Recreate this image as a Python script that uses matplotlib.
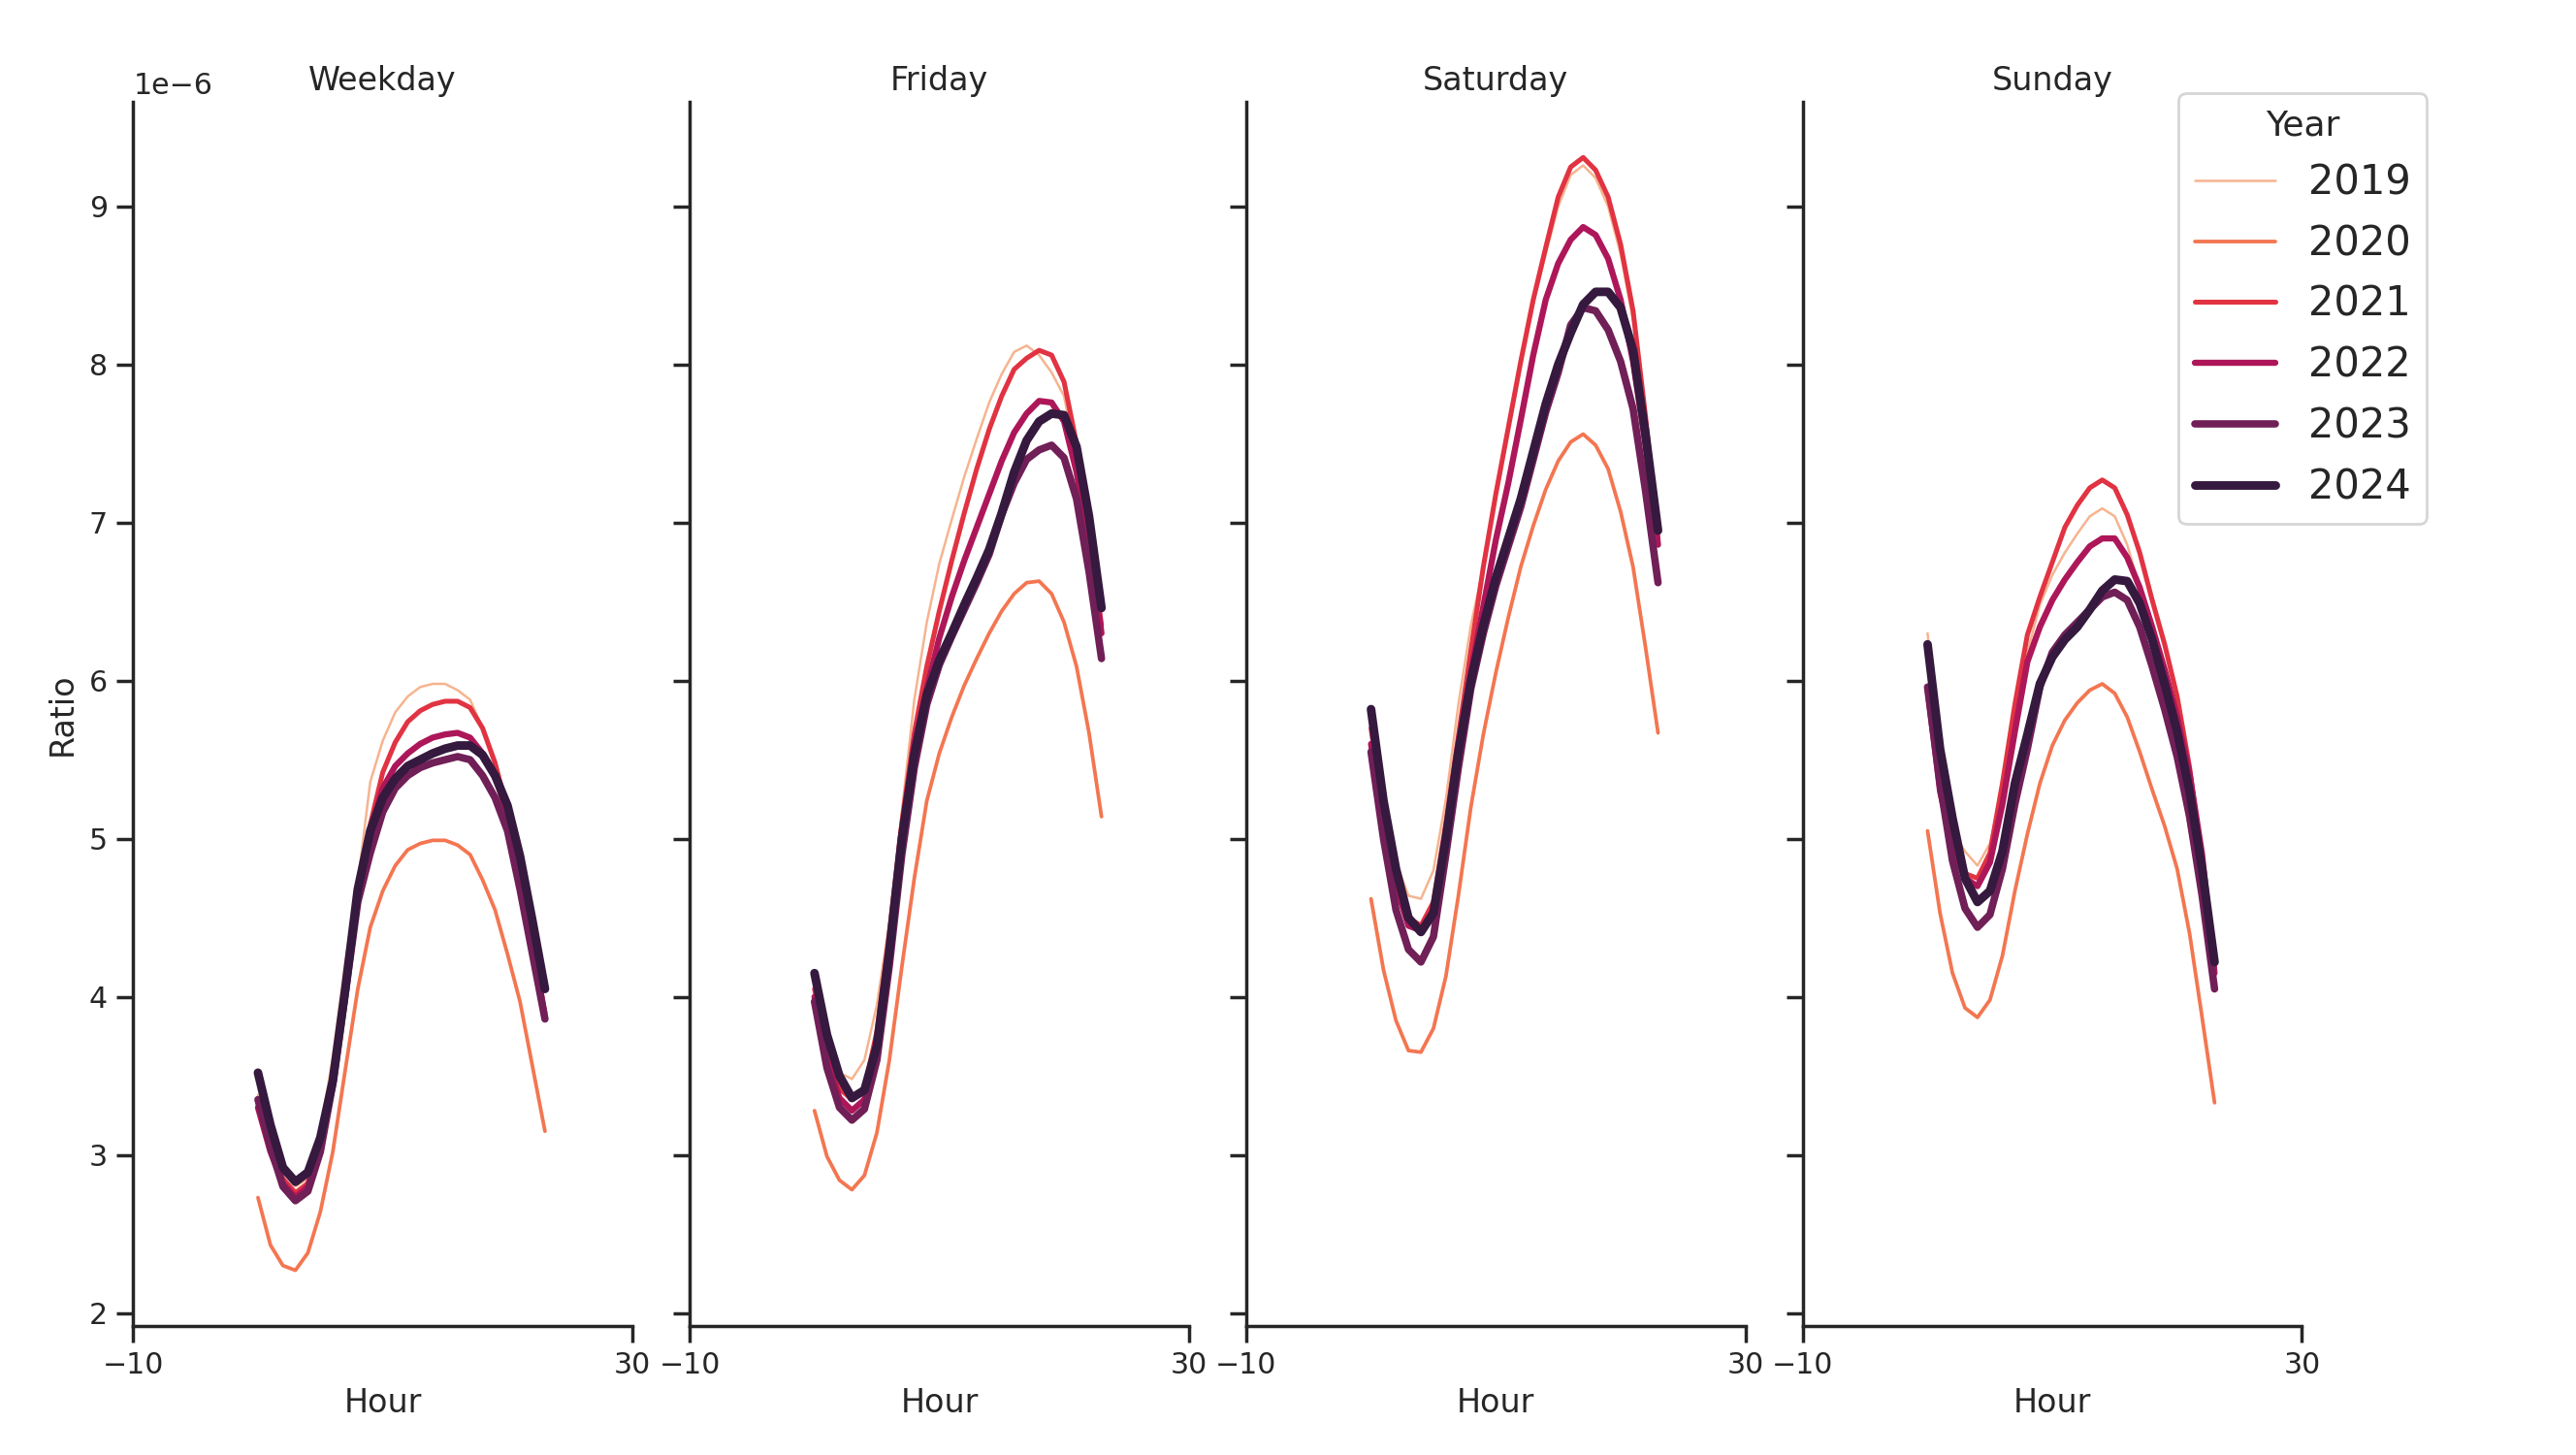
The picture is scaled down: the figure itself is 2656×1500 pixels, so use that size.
import matplotlib.pyplot as plt
import numpy as np

# hourly ratio per day type and year, in units of 1e-6
hours = list(range(24))
day_types = ["Weekday", "Friday", "Saturday", "Sunday"]
years = [2019, 2020, 2021, 2022, 2023, 2024]

weekday = {
    2019: [3.38, 3.10, 2.90, 2.80, 2.85, 3.15, 3.62, 4.22, 4.72, 5.36, 5.62, 5.80, 5.90, 5.96, 5.98, 5.98, 5.94, 5.88, 5.70, 5.50, 5.20, 4.82, 4.38, 3.92],
    2020: [2.73, 2.43, 2.30, 2.27, 2.38, 2.64, 3.02, 3.54, 4.05, 4.44, 4.67, 4.83, 4.93, 4.97, 4.99, 4.99, 4.96, 4.90, 4.74, 4.55, 4.27, 3.97, 3.56, 3.15],
    2021: [3.35, 3.05, 2.85, 2.76, 2.82, 3.10, 3.52, 4.12, 4.70, 5.09, 5.42, 5.61, 5.74, 5.81, 5.85, 5.87, 5.87, 5.83, 5.70, 5.48, 5.18, 4.80, 4.35, 3.90],
    2022: [3.30, 3.02, 2.82, 2.73, 2.80, 3.06, 3.48, 4.08, 4.68, 5.05, 5.32, 5.46, 5.54, 5.60, 5.64, 5.66, 5.67, 5.64, 5.54, 5.40, 5.15, 4.78, 4.32, 3.86],
    2023: [3.35, 3.05, 2.80, 2.71, 2.77, 3.02, 3.45, 4.02, 4.60, 4.91, 5.17, 5.32, 5.40, 5.45, 5.48, 5.50, 5.52, 5.50, 5.40, 5.26, 5.05, 4.68, 4.27, 3.86],
    2024: [3.52, 3.19, 2.92, 2.83, 2.89, 3.11, 3.47, 4.05, 4.68, 5.05, 5.26, 5.38, 5.46, 5.50, 5.54, 5.57, 5.59, 5.59, 5.53, 5.40, 5.21, 4.89, 4.48, 4.05],
}
friday = {
    2019: [4.05, 3.72, 3.52, 3.48, 3.60, 3.95, 4.47, 5.17, 5.88, 6.37, 6.74, 7.02, 7.29, 7.53, 7.76, 7.94, 8.08, 8.12, 8.06, 7.95, 7.80, 7.40, 6.85, 6.30],
    2020: [3.28, 2.99, 2.84, 2.78, 2.87, 3.14, 3.60, 4.19, 4.75, 5.24, 5.54, 5.77, 5.97, 6.14, 6.30, 6.44, 6.55, 6.62, 6.63, 6.55, 6.37, 6.09, 5.67, 5.14],
    2021: [4.05, 3.65, 3.42, 3.35, 3.42, 3.78, 4.40, 5.10, 5.67, 6.09, 6.44, 6.76, 7.06, 7.34, 7.59, 7.80, 7.97, 8.04, 8.09, 8.06, 7.89, 7.50, 6.94, 6.35],
    2022: [4.00, 3.60, 3.36, 3.28, 3.35, 3.70, 4.32, 5.02, 5.60, 5.95, 6.27, 6.53, 6.76, 6.97, 7.18, 7.39, 7.57, 7.69, 7.77, 7.76, 7.64, 7.32, 6.87, 6.30],
    2023: [3.97, 3.55, 3.30, 3.22, 3.29, 3.60, 4.20, 4.90, 5.45, 5.85, 6.10, 6.28, 6.45, 6.62, 6.80, 7.05, 7.25, 7.40, 7.46, 7.49, 7.41, 7.15, 6.69, 6.14],
    2024: [4.15, 3.76, 3.50, 3.36, 3.41, 3.69, 4.29, 5.00, 5.53, 5.91, 6.13, 6.30, 6.48, 6.65, 6.83, 7.06, 7.32, 7.52, 7.64, 7.69, 7.68, 7.48, 7.04, 6.46],
}
saturday = {
    2019: [5.70, 5.20, 4.85, 4.64, 4.62, 4.80, 5.25, 5.85, 6.35, 6.72, 7.16, 7.58, 8.00, 8.39, 8.70, 9.00, 9.20, 9.26, 9.18, 9.00, 8.70, 8.28, 7.62, 6.85],
    2020: [4.62, 4.17, 3.85, 3.66, 3.65, 3.80, 4.13, 4.64, 5.20, 5.66, 6.05, 6.40, 6.72, 6.98, 7.21, 7.39, 7.51, 7.56, 7.49, 7.34, 7.07, 6.72, 6.21, 5.67],
    2021: [5.70, 5.15, 4.75, 4.50, 4.45, 4.60, 5.10, 5.65, 6.19, 6.72, 7.18, 7.60, 8.02, 8.41, 8.74, 9.06, 9.25, 9.31, 9.23, 9.06, 8.76, 8.34, 7.67, 6.89],
    2022: [5.60, 5.10, 4.70, 4.45, 4.42, 4.55, 5.00, 5.55, 6.05, 6.47, 6.89, 7.25, 7.65, 8.06, 8.41, 8.64, 8.79, 8.87, 8.82, 8.67, 8.41, 8.02, 7.49, 6.86],
    2023: [5.55, 5.00, 4.55, 4.30, 4.22, 4.38, 4.90, 5.45, 5.95, 6.30, 6.60, 6.85, 7.10, 7.40, 7.70, 7.95, 8.25, 8.36, 8.34, 8.22, 8.02, 7.72, 7.20, 6.62],
    2024: [5.82, 5.24, 4.81, 4.50, 4.41, 4.53, 5.00, 5.55, 6.00, 6.35, 6.65, 6.90, 7.15, 7.45, 7.75, 8.00, 8.20, 8.38, 8.46, 8.46, 8.36, 8.09, 7.56, 6.95],
}
sunday = {
    2019: [6.30, 5.50, 5.05, 4.92, 4.83, 4.97, 5.30, 5.77, 6.18, 6.48, 6.67, 6.81, 6.93, 7.04, 7.09, 7.04, 6.86, 6.59, 6.25, 5.90, 5.50, 5.05, 4.60, 4.15],
    2020: [5.05, 4.53, 4.15, 3.93, 3.87, 3.98, 4.26, 4.67, 5.03, 5.35, 5.59, 5.75, 5.86, 5.94, 5.98, 5.92, 5.77, 5.55, 5.31, 5.08, 4.81, 4.40, 3.87, 3.33],
    2021: [6.20, 5.45, 5.00, 4.78, 4.75, 4.91, 5.35, 5.85, 6.29, 6.53, 6.75, 6.97, 7.11, 7.22, 7.27, 7.22, 7.05, 6.81, 6.51, 6.23, 5.90, 5.45, 4.85, 4.18],
    2022: [5.95, 5.30, 4.95, 4.75, 4.70, 4.85, 5.22, 5.68, 6.12, 6.34, 6.51, 6.64, 6.75, 6.85, 6.90, 6.90, 6.78, 6.59, 6.34, 6.07, 5.77, 5.41, 4.90, 4.15],
    2023: [5.96, 5.35, 4.86, 4.56, 4.44, 4.52, 4.81, 5.22, 5.57, 5.96, 6.18, 6.29, 6.37, 6.45, 6.53, 6.56, 6.51, 6.34, 6.09, 5.82, 5.52, 5.14, 4.64, 4.05],
    2024: [6.23, 5.57, 5.13, 4.75, 4.60, 4.67, 4.92, 5.35, 5.66, 5.98, 6.15, 6.26, 6.34, 6.45, 6.57, 6.64, 6.63, 6.49, 6.26, 5.98, 5.68, 5.30, 4.81, 4.22],
}
panels = [weekday, friday, saturday, sunday]
scale = 1e-6

# rocket_r palette, thicker lines for later years
colors = ["#f6b48f", "#f37651", "#e13342", "#ad1759", "#701f57", "#35193e"]
widths = [0.9, 1.36, 1.82, 2.28, 2.74, 3.2]

ink = "#262626"
plt.rcParams.update({
    "font.family": "DejaVu Sans",
    "text.color": ink,
    "axes.labelcolor": ink,
    "xtick.color": ink,
    "ytick.color": ink,
    "axes.edgecolor": ink,
    "axes.linewidth": 1.25,
    "xtick.major.width": 1.25,
    "ytick.major.width": 1.25,
    "xtick.major.size": 6,
    "ytick.major.size": 6,
    "xtick.labelsize": 10.8,
    "ytick.labelsize": 10.8,
})

fig, axes = plt.subplots(1, 4, figsize=(13.28, 7.5), dpi=200, sharey=True)
fig.subplots_adjust(left=0.0517, right=0.8936, bottom=0.0887, top=0.93, wspace=0.115)

for ax, name, data in zip(axes, day_types, panels):
    for yr, c, lw in zip(years, colors, widths):
        ax.plot(hours, np.array(data[yr]) * scale, color=c, lw=lw,
                solid_capstyle="round", label=str(yr))
    ax.set_xlim(-10, 30)
    ax.set_xticks([-10, 30])
    ax.set_title(name, fontsize=12, pad=4.2)
    ax.set_xlabel("Hour", fontsize=12, labelpad=2.8)
    ax.spines["top"].set_visible(False)
    ax.spines["right"].set_visible(False)
    ax.tick_params(axis="y", labelleft=(ax is axes[0]))

axes[0].set_ylabel("Ratio", fontsize=12)
axes[0].set_yticks(np.arange(2, 10) * scale)
axes[0].yaxis.get_offset_text().set_fontsize(10.8)

handles, labels = axes[0].get_legend_handles_labels()
leg = fig.legend(handles, labels, title="Year", loc="upper right",
                 bbox_to_anchor=(0.950, 0.950), fontsize=15, title_fontsize=13)

fig.savefig("out.png")
